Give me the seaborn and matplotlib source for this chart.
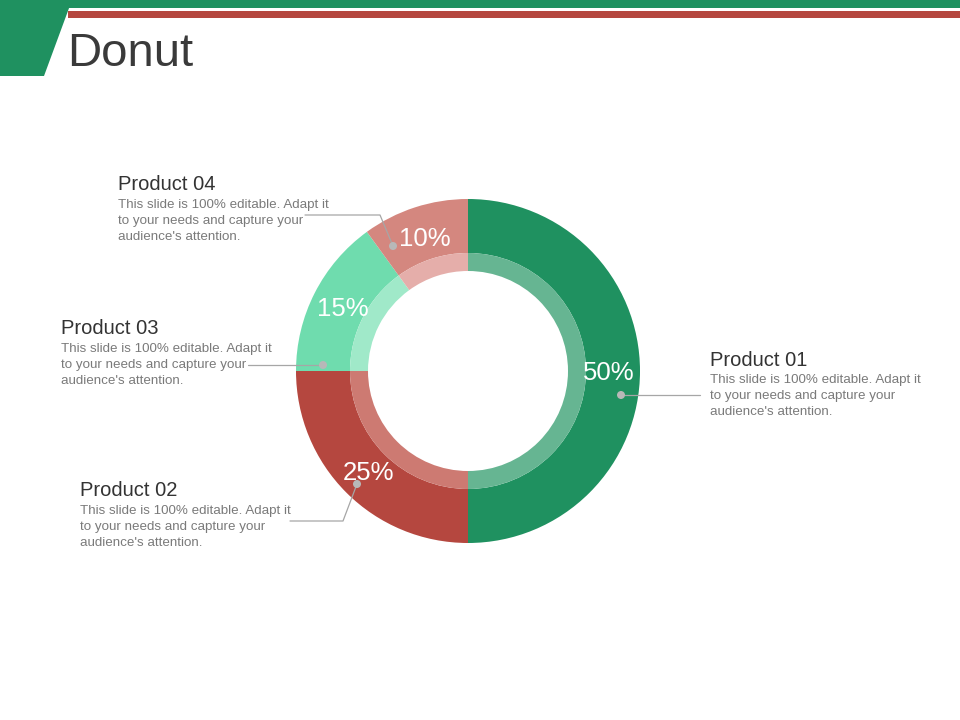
import matplotlib
import seaborn as sns
import numpy as np

matplotlib.use("Agg")
import matplotlib.pyplot as plt
from matplotlib.patches import Polygon, Rectangle, Circle

# Data
products = ["Product 01", "Product 02", "Product 03", "Product 04"]
shares = [50, 25, 15, 10]
outer_colors = ["#1f9160", "#b5473f", "#6fdcae", "#d4877f"]
inner_colors = ["#66b592", "#cd7a72", "#a0e9c9", "#e5aeaa"]
description = ["This slide is 100% editable. Adapt it",
               "to your needs and capture your",
               "audience's attention."]

# Layout (pixels)
W, H = 960, 720
CX, CY, R_OUT, R_MID, R_IN = 468, 371, 172, 118, 100

# label blocks: title x, title y, dot position, leader polyline
label_layout = {
    "Product 01": dict(x=710, y=360, dot=(621, 395), line=[(621, 395), (700, 395)]),
    "Product 02": dict(x=80, y=491, dot=(357, 484), line=[(357, 484), (343, 521), (290, 521)]),
    "Product 03": dict(x=61, y=329, dot=(323, 365), line=[(323, 365), (248, 365)]),
    "Product 04": dict(x=118, y=185, dot=(393, 246), line=[(393, 246), (380, 215), (305, 215)]),
}


def main() -> None:
    sns.set_theme(style="white")
    plt.rcParams["font.family"] = ["Liberation Sans", "DejaVu Sans"]

    fig = plt.figure(figsize=(W / 100, H / 100), dpi=100)
    fig.patch.set_facecolor("white")

    # background / header axes in pixel coordinates
    bg = fig.add_axes([0, 0, 1, 1], zorder=0)
    bg.set_xlim(0, W)
    bg.set_ylim(H, 0)
    bg.axis("off")
    bg.add_patch(Rectangle((0, 0), W, 8, color="#1f9160", lw=0))
    bg.add_patch(Rectangle((68, 11), W - 68, 7, color="#b5473f", lw=0))
    bg.add_patch(Polygon([(0, 0), (72, 0), (44, 76), (0, 76)], color="#1f9160", lw=0))
    bg.text(67, 54, "Donut", fontsize=34, color="#3a3a3a", va="center", ha="left")

    # donut axes
    pie_ax = fig.add_axes([(CX - R_OUT) / W, (H - CY - R_OUT) / H,
                           2 * R_OUT / W, 2 * R_OUT / H], zorder=1)
    wedges, _, pct = pie_ax.pie(
        shares, colors=outer_colors, startangle=90, counterclock=False,
        radius=1, wedgeprops=dict(width=(R_OUT - R_MID) / R_OUT, linewidth=0),
        autopct="%d%%", pctdistance=0.82,
        textprops=dict(color="white", fontsize=18.5),
    )
    for t in pct:
        t.set_va("center_baseline")
    pie_ax.pie(
        shares, colors=inner_colors, startangle=90, counterclock=False,
        radius=R_MID / R_OUT, wedgeprops=dict(width=(R_MID - R_IN) / R_OUT, linewidth=0),
    )
    pie_ax.set_xlim(-1, 1)
    pie_ax.set_ylim(-1, 1)
    pie_ax.set_aspect("equal")
    pie_ax.axis("off")

    # overlay for leaders and labels
    ov = fig.add_axes([0, 0, 1, 1], zorder=2)
    ov.set_xlim(0, W)
    ov.set_ylim(H, 0)
    ov.axis("off")
    ov.patch.set_alpha(0)

    for name in products:
        lay = label_layout[name]
        xs, ys = zip(*lay["line"])
        ov.plot(xs, ys, color="#a6a6a6", lw=0.9)
        ov.add_patch(Circle(lay["dot"], 4, color="#b8b8b8", lw=0, zorder=5))
        ov.text(lay["x"], lay["y"], name, fontsize=14.5, color="#333333", va="center", ha="left")
        for i, line in enumerate(description):
            ov.text(lay["x"], lay["y"] + 20 + 16 * i, line, fontsize=9.6,
                    color="#7a7a7a", va="center", ha="left")

    fig.savefig("out.png", dpi=100)
    plt.close(fig)


if __name__ == "__main__":
    main()
